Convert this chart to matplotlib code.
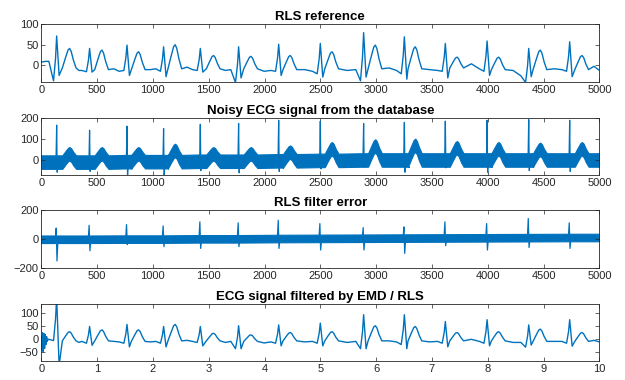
import matplotlib.pyplot as plt

plt.rcParams['font.family'] = ['Liberation Sans', 'DejaVu Sans']

fs = 500          # samples per second (bottom panel is in seconds)
n_samples = 5000

# beat positions (samples)
r_pos = [138, 433, 768, 1096, 1425, 1768, 2127, 2500, 2888, 3253, 3620, 3994, 4367, 4734]
t_pos = [254, 544, 872, 1200, 1544, 1879, 2231, 2605, 2993, 3351, 3725, 4098, 4471, 4845]

# shape of one T wave (offset from its peak, fraction of its height)
t_off = [-65, -38, -14, 0, 14, 34, 58]
t_frac = [0.0, 0.5, 0.92, 1.0, 0.85, 0.4, 0.0]

# RLS reference
ref_pre = [10, -12, -14, -8, -10, -10, -12, -14, -10, -12, -12, -8, -25, -10]
ref_q = [-37, -15, -12, -14, -12, -41, -14, -20, -37, -20, -14, -14, -41, -14]
ref_r = [71, 41, 49, 45, 41, 45, 51, 53, 79, 69, 53, 59, 41, 57]
ref_s = [-24, -16, -24, -27, -16, -30, -24, -28, -28, -33, -30, -24, -27, -27]
ref_t = [41, 37, 33, 50, 24, 22, 24, 33, 49, 45, 20, 20, 37, 24]
ref_base = [-6, -10, -10, -8, -8, -8, -10, -8, -8, -8, -6, -10, -10, -10]
ref_mid = [-12, -8, -10, -4, -12, -14, -10, -12, -6, -10, 4, -12, -8, -2]
ref_start = [8, 10]
ref_end = -12

# noisy ECG from the database
noisy_r = [167, 143, 162, 151, 171, 175, 190, 186, 175, 180, 186, 190, 193, 190]
noisy_s = [-56, -52, -75, -75, -48, -59, -52, -40, -32, -56, -35, -56, -48, -52]
noisy_ttop = [63, 63, 63, 79, 63, 63, 71, 87, 100, 103, 92, 87, 84, 87]
noisy_base = [-8, -8, -6, -6, -4, -4, -2, 0, 2, 2, 2, 2, 2, 2]
noisy_halfw = 32

# RLS filter error
err_up = [74, 93, 98, 89, 117, 110, 128, 105, 77, 82, 117, 105, 140, 110]
err_down = [-152, -82, -40, -54, -66, -54, -66, -77, -77, -100, -47, -77, -60, -66]
err_base = [-3, -3, -2, -2, 0, 0, 2, 3, 4, 5, 6, 7, 8, 9]
err_halfw = 26

# ECG filtered by EMD / RLS
emd_pre = [0, -8, -10, -8, -8, -8, -10, -8, -8, -10, -8, -8, -12, -8]
emd_q = [-5, -15, -15, -15, -12, -36, -15, -15, -36, -20, -15, -15, -30, -15]
emd_r = [160, 49, 57, 49, 49, 52, 55, 62, 94, 94, 68, 75, 55, 75]
emd_s = [-100, -23, -29, -29, -25, -36, -25, -25, -36, -36, -29, -25, -22, -26]
emd_t = [29, 36, 36, 57, 23, 17, 26, 29, 52, 49, 26, 29, 39, 26]
emd_base = [-6, -6, -8, -6, -6, -8, -6, -6, -6, -6, -6, -6, -8, -8]
emd_mid = [-12, -8, -10, -4, -12, -14, -10, -12, -6, -10, 0, -12, -8, -4]
emd_start_x = [0, 6, 12, 18, 24, 30, 36, 42, 48, 54, 62]
emd_start_y = [10, -40, 25, -50, 22, -35, 18, -20, 10, -8, 0]
emd_end = -10

blue = '#0072BD'
grey = '#262626'


def t_wave(tp, peak, base):
    return ([tp + o for o in t_off], [base + f * (peak - base) for f in t_frac])


def ecg_trace(pre, q, r, s, t, base, mid):
    xs, ys = [], []
    for i in range(len(r_pos)):
        rp, tp = r_pos[i], t_pos[i]
        xs += [rp - 70, rp - 28, rp - 10, rp, rp + 22]
        ys += [pre[i], q[i], (q[i] + r[i]) / 2, r[i], s[i]]
        tx, ty = t_wave(tp, t[i], base[i])
        xs += tx
        ys += ty
        nxt = r_pos[i + 1] - 70 if i + 1 < len(r_pos) else n_samples
        xs.append((tp + t_off[-1] + nxt) / 2)
        ys.append(mid[i])
    return xs, ys


def style(ax, title, xlim, ylim, yticks, xticks):
    ax.set_xlim(xlim)
    ax.set_ylim(ylim)
    ax.set_yticks(yticks)
    ax.set_xticks(xticks)
    ax.set_title(title, fontsize=9.5, fontweight='bold', pad=3)
    ax.tick_params(direction='in', top=True, right=True, length=3, width=0.5,
                   labelsize=8, colors=grey, pad=2)
    for sp in ax.spines.values():
        sp.set_color(grey)
        sp.set_linewidth(0.6)


fig = plt.figure(figsize=(6.25, 3.8), dpi=100)
fig.set_facecolor('white')
ax1 = fig.add_axes([0.066, 0.784, 0.893, 0.153])
ax2 = fig.add_axes([0.066, 0.539, 0.893, 0.150])
ax3 = fig.add_axes([0.066, 0.295, 0.893, 0.153])
ax4 = fig.add_axes([0.066, 0.050, 0.893, 0.150])

sample_ticks = list(range(0, 5001, 500))

# 1) RLS reference
xs, ys = ecg_trace(ref_pre, ref_q, ref_r, ref_s, ref_t, ref_base, ref_mid)
xs = [0, 40] + xs + [n_samples]
ys = ref_start + ys + [ref_end]
ax1.plot(xs, ys, color=blue, lw=1.0)
style(ax1, 'RLS reference', (0, 5000), (-40, 100), [0, 50, 100], sample_ticks)

# 2) Noisy ECG: dense noise drawn as a band around the slow component
cx, cy = [0], [noisy_base[0]]
for i in range(len(r_pos)):
    rp = r_pos[i]
    cx += [rp - 10, rp + 40]
    cy += [noisy_base[i], noisy_base[i]]
    tx, ty = t_wave(t_pos[i], noisy_ttop[i] - noisy_halfw, noisy_base[i])
    cx += tx
    cy += ty
cx.append(n_samples)
cy.append(noisy_base[-1])
ax2.fill_between(cx, [v - noisy_halfw for v in cy], [v + noisy_halfw for v in cy],
                 color=blue, lw=0.8, edgecolor=blue)
for i in range(len(r_pos)):
    rp = r_pos[i]
    ax2.plot([rp - 6, rp, rp + 5, rp + 12],
             [noisy_base[i], noisy_r[i], noisy_s[i], noisy_base[i]], color=blue, lw=0.9)
style(ax2, 'Noisy ECG signal from the database', (0, 5000), (-70, 200), [0, 100, 200], sample_ticks)

# 3) RLS filter error
ex = [0] + r_pos + [n_samples]
ey = [err_base[0]] + err_base + [err_base[-1]]
ax3.fill_between(ex, [v - err_halfw for v in ey], [v + err_halfw for v in ey],
                 color=blue, lw=0.8, edgecolor=blue)
for i in range(len(r_pos)):
    rp = r_pos[i]
    ax3.plot([rp - 12, rp - 4, rp + 3, rp + 12],
             [err_base[i], err_up[i], err_down[i], err_base[i]], color=blue, lw=0.9)
style(ax3, 'RLS filter error', (0, 5000), (-200, 200), [-200, 0, 200], sample_ticks)

# 4) ECG filtered by EMD / RLS (time in seconds)
xs, ys = ecg_trace(emd_pre, emd_q, emd_r, emd_s, emd_t, emd_base, emd_mid)
xs = emd_start_x + xs + [n_samples]
ys = emd_start_y + ys + [emd_end]
ax4.plot([x / fs for x in xs], ys, color=blue, lw=1.0)
style(ax4, 'ECG signal filtered by EMD / RLS', (0, 10), (-83, 135), [-50, 0, 50, 100], list(range(11)))

fig.savefig('out.png', dpi=100)
